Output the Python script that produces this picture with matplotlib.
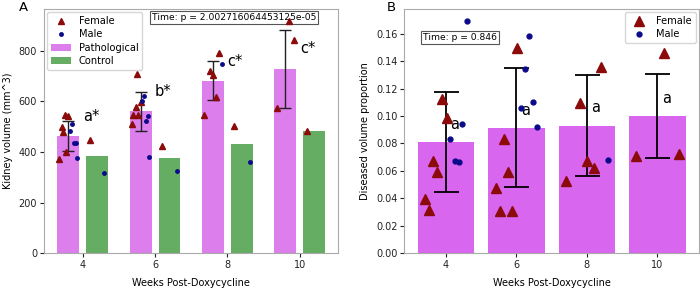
import matplotlib
matplotlib.use("Agg")
import matplotlib.pyplot as plt

# ---------------------------------------------------------
# Data
# ---------------------------------------------------------
weeks = [4, 6, 8, 10]

# Panel A: kidney volume
path_mean = [463, 562, 682, 730]
path_lo = [403, 483, 606, 574]
path_hi = [523, 639, 760, 884]
ctrl_mean = [384, 377, 430, 483]
letters_a = ["a*", "b*", "c*", "c*"]
letters_a_y = [540, 640, 760, 808]

fem_a_x = [3.50, 3.59, 3.42, 3.46, 3.54, 3.35, 4.20,
           5.49, 5.60, 5.47, 5.40, 5.54, 5.36, 6.20,
           7.77, 7.52, 7.61, 7.68, 7.36, 8.19,
           9.69, 9.85, 9.37, 10.21]
fem_a_y = [547, 543, 500, 478, 399, 372, 446,
           709, 597, 579, 547, 547, 510, 425,
           793, 722, 705, 617, 547, 503,
           919, 844, 573, 483]
male_a_x = [3.70, 3.65, 3.76, 3.80, 3.83, 4.60,
            5.70, 5.63, 5.80, 5.75, 5.84, 6.60,
            7.84, 8.61]
male_a_y = [510, 484, 434, 434, 377, 316,
            622, 603, 544, 523, 379, 325,
            747, 359]

# Panel B: diseased volume proportion
prop_mean = [0.0808, 0.0912, 0.0929, 0.0998]
prop_lo = [0.0447, 0.0482, 0.0562, 0.0691]
prop_hi = [0.1173, 0.1348, 0.1297, 0.1309]
letters_b = ["a", "a", "a", "a"]
letters_b_y = [0.094, 0.104, 0.106, 0.1126]

fem_b_x = [3.88, 4.02, 3.64, 3.76, 3.40, 3.53,
           6.01, 5.65, 5.77, 5.41, 5.53, 5.88,
           8.40, 7.81, 8.01, 8.20, 7.40,
           10.20, 9.40, 10.60]
fem_b_y = [0.1122, 0.0983, 0.0672, 0.0591, 0.0394, 0.0314,
           0.1499, 0.0834, 0.0594, 0.0477, 0.0307, 0.0307,
           0.1360, 0.1097, 0.0672, 0.0618, 0.0528,
           0.1458, 0.0708, 0.0723]
male_b_x = [4.61, 4.47, 4.11, 4.26, 4.37,
            6.37, 6.24, 6.48, 6.13, 6.59,
            8.61]
male_b_y = [0.1696, 0.0939, 0.0832, 0.0672, 0.0662,
            0.1584, 0.1343, 0.1102, 0.1056, 0.0922,
            0.0679]

FS = 7
LFS = 7.1
BFS = 6.6
SPINE = "#aaaaaa"

fig = plt.figure(figsize=(7, 2.88), dpi=100)
axA = fig.add_axes([0.063, 0.1215, 0.42, 0.847])
axB = fig.add_axes([0.5776, 0.1215, 0.421, 0.847])

# ---------------------------------------------------------
# Panel A
# ---------------------------------------------------------
xp = [w - 0.4 for w in weeks]
xc = [w + 0.4 for w in weeks]
axA.bar(xp, path_mean, width=0.6, color="#dc7eec", label="Pathological", zorder=1)
axA.bar(xc, ctrl_mean, width=0.6, color="#66ad64", label="Control", zorder=1)
err_a = [[m - l for m, l in zip(path_mean, path_lo)],
         [h - m for m, h in zip(path_mean, path_hi)]]
axA.errorbar(xp, path_mean, yerr=err_a, fmt="none", ecolor="#222222",
             elinewidth=1.0, capsize=4, capthick=1.0, zorder=3)
axA.plot(fem_a_x, fem_a_y, "^", color="#8b0a0a", markersize=5,
         linestyle="none", label="Female", zorder=4)
axA.plot(male_a_x, male_a_y, "o", color="#0a0a8b", markersize=2.5,
         linestyle="none", label="Male", zorder=4)
for w, t, y in zip(weeks, letters_a, letters_a_y):
    axA.text(w, y, t, fontsize=10.5, ha="left", va="center")
axA.text(0.646, 0.965, "Time: p = 2.002716064453125e-05", transform=axA.transAxes,
         fontsize=BFS, ha="center", va="center",
         bbox=dict(boxstyle="square,pad=0.2", fc="white", ec="#555555", lw=0.8))
axA.set_xlim(2.93, 11.06)
axA.set_ylim(0, 966)
axA.set_xticks(weeks)
axA.set_yticks([0, 200, 400, 600, 800])
axA.set_xlabel("Weeks Post-Doxycycline", fontsize=FS, labelpad=6)
axA.set_ylabel("Kidney volume (mm^3)", fontsize=FS)
h, l = axA.get_legend_handles_labels()
order = [l.index(n) for n in ["Female", "Male", "Pathological", "Control"]]
axA.legend([h[i] for i in order], [l[i] for i in order], loc="upper left",
           fontsize=LFS, framealpha=0.8, borderaxespad=0.3, labelspacing=0.35)
fig.text(0.033, 0.997, "A", fontsize=9.5, ha="center", va="top")

# ---------------------------------------------------------
# Panel B
# ---------------------------------------------------------
axB.bar(weeks, prop_mean, width=1.6, color="#d966ef", zorder=1)
err_b = [[m - l for m, l in zip(prop_mean, prop_lo)],
         [h - m for m, h in zip(prop_mean, prop_hi)]]
axB.errorbar(weeks, prop_mean, yerr=err_b, fmt="none", ecolor="black",
             elinewidth=1.3, capsize=9, capthick=1.3, zorder=3)
axB.plot(fem_b_x, fem_b_y, "^", color="#8b0a0a", markersize=7,
         linestyle="none", label="Female", zorder=4)
axB.plot(male_b_x, male_b_y, "o", color="#0a0a8b", markersize=3.5,
         linestyle="none", label="Male", zorder=4)
for w, t, y in zip(weeks, letters_b, letters_b_y):
    axB.text(w + 0.13, y, t, fontsize=10.5, ha="left", va="center")
axB.text(0.19, 0.883, "Time: p = 0.846", transform=axB.transAxes,
         fontsize=BFS, ha="center", va="center",
         bbox=dict(boxstyle="square,pad=0.2", fc="white", ec="#555555", lw=0.8))
axB.set_xlim(2.82, 11.18)
axB.set_ylim(0, 0.178)
axB.set_xticks(weeks)
axB.set_yticks([0.00, 0.02, 0.04, 0.06, 0.08, 0.10, 0.12, 0.14, 0.16])
axB.set_yticklabels(["0.00", "0.02", "0.04", "0.06", "0.08", "0.10",
                     "0.12", "0.14", "0.16"])
axB.set_xlabel("Weeks Post-Doxycycline", fontsize=FS, labelpad=6)
axB.set_ylabel("Diseased volume proportion", fontsize=FS)
axB.legend(loc="upper right", fontsize=LFS, framealpha=0.8, borderaxespad=0.3,
           labelspacing=0.35)
fig.text(0.559, 0.997, "B", fontsize=9.5, ha="center", va="top")

for ax in (axA, axB):
    ax.tick_params(labelsize=FS, colors="#222222", length=3, pad=2)
    for s in ax.spines.values():
        s.set_color(SPINE)

fig.savefig("out.png", dpi=100)
